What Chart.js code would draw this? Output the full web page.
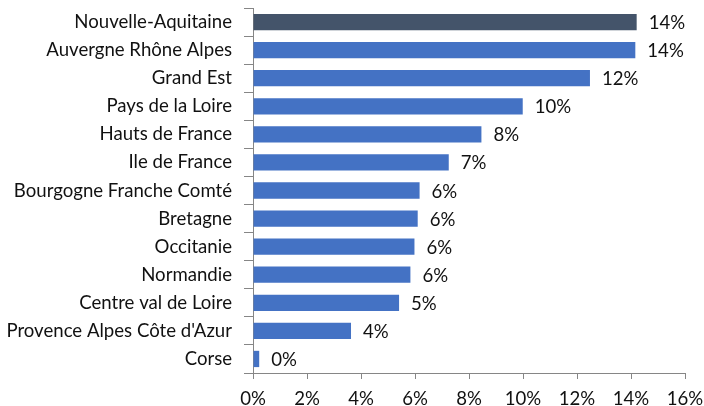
<!DOCTYPE html>
<html>
<head>
<meta charset="utf-8">
<script src="https://cdn.jsdelivr.net/npm/chart.js@4/dist/chart.umd.min.js"></script>
<style>
  html, body { margin: 0; padding: 0; background: #fff; }
  #wrap { width: 704px; height: 406px; }
</style>
</head>
<body>
<div id="wrap"><canvas id="chart" width="704" height="406"></canvas></div>
<script>
// Regions and their share (%)
const regions = [
    'Nouvelle-Aquitaine',
    'Auvergne Rhône Alpes',
    'Grand Est',
    'Pays de la Loire',
    'Hauts de France',
    'Ile de France',
    'Bourgogne Franche Comté',
    'Bretagne',
    'Occitanie',
    'Normandie',
    'Centre val de Loire',
    "Provence Alpes Côte d'Azur",
    'Corse'
];
const shares = [14.21, 14.16, 12.48, 9.99, 8.46, 7.25, 6.17, 6.10, 5.98, 5.83, 5.41, 3.63, 0.23];
const barColors = ['#44546A', '#4472C4', '#4472C4', '#4472C4', '#4472C4', '#4472C4', '#4472C4',
    '#4472C4', '#4472C4', '#4472C4', '#4472C4', '#4472C4', '#4472C4'];

const FONT = 'Lato';
const FONT_SIZE = 18.6;

// value labels at the end of each bar
const valueLabels = {
    id: 'valueLabels',
    afterDatasetsDraw(chart) {
        const ctx = chart.ctx;
        const meta = chart.getDatasetMeta(0);
        ctx.save();
        ctx.font = FONT_SIZE + 'px "' + FONT + '"';
        ctx.fillStyle = '#111';
        ctx.textAlign = 'left';
        ctx.textBaseline = 'middle';
        meta.data.forEach((bar, i) => {
            ctx.fillText(Math.round(shares[i]) + '%', bar.x + 12, bar.y + 1);
        });
        ctx.restore();
    }
};

const ctx = document.getElementById('chart').getContext('2d');
new Chart(ctx, {
    type: 'bar',
    data: {
        labels: regions,
        datasets: [{
            data: shares,
            backgroundColor: barColors,
            borderWidth: 0,
            categoryPercentage: 0.58,
            barPercentage: 1
        }]
    },
    options: {
        indexAxis: 'y',
        responsive: false,
        animation: false,
        layout: {
            padding: { top: 8, right: 19, left: 0, bottom: 0 }
        },
        plugins: {
            legend: { display: false },
            tooltip: { enabled: false }
        },
        scales: {
            x: {
                min: 0,
                max: 16,
                ticks: {
                    stepSize: 2,
                    color: '#111',
                    padding: 9,
                    font: { family: FONT, size: FONT_SIZE },
                    callback: v => v + '%'
                },
                grid: {
                    drawOnChartArea: false,
                    tickLength: 6,
                    color: '#868686'
                },
                border: { color: '#868686' },
                afterFit: s => {
                    s.height = 33;
                    s.paddingLeft = 0;
                    s.paddingRight = 0;
                }
            },
            y: {
                ticks: {
                    color: '#111',
                    padding: 12,
                    font: { family: FONT, size: FONT_SIZE }
                },
                grid: {
                    drawOnChartArea: false,
                    tickLength: 9,
                    color: '#868686',
                    offset: true
                },
                border: { color: '#868686' },
                afterFit: s => {
                    s.width = 253;
                    s.paddingTop = 0;
                    s.paddingBottom = 0;
                }
            }
        }
    },
    plugins: [valueLabels]
});
</script>
</body>
</html>
